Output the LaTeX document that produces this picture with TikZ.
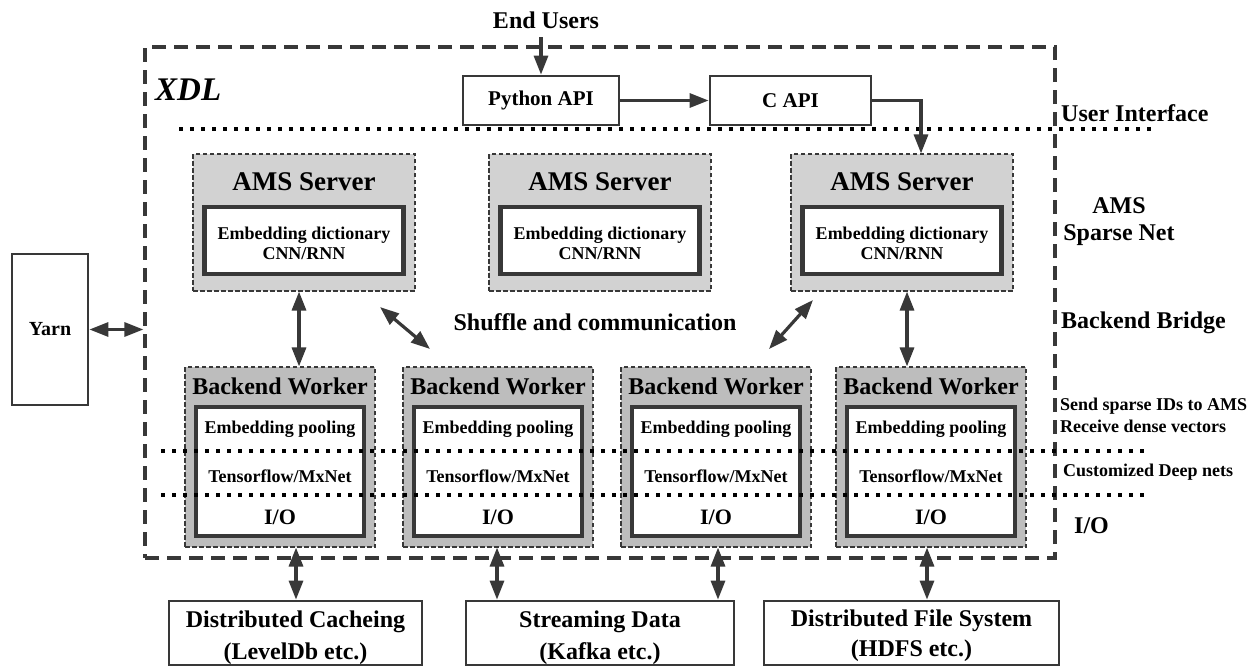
\documentclass[tikz,border=0pt]{standalone}
\usepackage{fontspec}
\setmainfont{Liberation Serif}
\usetikzlibrary{arrows.meta}
\definecolor{ln}{HTML}{383838}
\definecolor{amsfill}{HTML}{D2D2D2}
\definecolor{bwfill}{HTML}{BDBDBD}
\newcommand{\fsz}[2]{\fontsize{#1}{#2}\selectfont\bfseries}
\begin{document}
\begin{tikzpicture}[x=1pt,y=-1pt,
  box/.style={draw=ln, line width=2.8pt, fill=white, inner sep=0pt},
  graybox/.style={draw=ln, line width=1.1pt, dash pattern=on 4.5pt off 2.5pt, inner sep=0pt},
  thickbox/.style={draw=ln, line width=#1, fill=white, inner sep=0pt},
  lbl/.style={inner sep=0pt},
  arr/.style={draw=ln, line width=3.2pt, -{Triangle[length=19pt,width=14pt]}},
  darr/.style={draw=ln, line width=3.2pt, {Triangle[length=19pt,width=14pt]}-{Triangle[length=19pt,width=14pt]}},
  dotline/.style={line width=4.2pt, dash pattern=on 4.2pt off 6.8pt, black},
  frame/.style={draw=ln, line width=3.2pt, dash pattern=on 14pt off 8pt, inner sep=0pt}
]
\useasboundingbox (0,0) rectangle (1260,667);

% outer XDL frame
\node[frame, minimum width=910pt, minimum height=511pt] (xdl) at (600,302.5) {};
\node[lbl, anchor=west, font=\fontsize{33}{33}\selectfont\bfseries\itshape] (xdlt) at (155,90) {XDL};

% user interface
\node[lbl, font=\fsz{24}{24}] (eu) at (546,20) {End Users};
\node[box, minimum width=156pt, minimum height=49pt, font=\fsz{21}{21}] (py) at (541,100.5) {Python API};
\node[box, minimum width=161pt, minimum height=49pt, font=\fsz{21}{21}] (capi) at (790.5,100.5) {C API};
\coordinate (eua) at (541,37);

% AMS servers
\foreach \i/\x in {1/304,2/600,3/902}{
  \node[graybox, fill=amsfill, minimum width=222pt, minimum height=137pt] (ams\i) at (\x,222.5) {};
  \node[lbl, font=\fsz{27}{27}] (ams\i t) at (\x,182) {AMS Server};
  \node[thickbox=4.5pt, minimum width=199pt, minimum height=67pt] (ams\i e) at (\x,240.5) {};
  \node[lbl, align=center, font=\fsz{18}{20}] (ams\i d) at (\x,243) {Embedding dictionary\\CNN/RNN};
}

% Backend workers
\foreach \i/\x in {1/280,2/498,3/716,4/931}{
  \node[graybox, fill=bwfill, minimum width=190pt, minimum height=180pt] (bw\i) at (\x,457) {};
  \node[lbl, font=\fsz{24}{24}] (bw\i t) at (\x,386) {Backend Worker};
  \node[thickbox=3.5pt, minimum width=168pt, minimum height=129pt] (bw\i i) at (\x,471.5) {};
  \node[lbl, font=\fsz{18}{18}] (bw\i a) at (\x,429) {Embedding pooling};
  \node[lbl, font=\fsz{18}{18}] (bw\i b) at (\x,476) {Tensorflow/MxNet};
  \node[lbl, font=\fsz{22}{22}] (bw\i c) at (\x,517) {I/O};
}

% dotted layer lines
\coordinate (l0a) at (179,129); \coordinate (l0b) at (1154,129);
\coordinate (l1a) at (161,451); \coordinate (l1b) at (1145,451);
\coordinate (l2a) at (161,495); \coordinate (l2b) at (1145,495);
\draw[dotline] (l0a) -- (l0b);
\draw[dotline] (l1a) -- (l1b);
\draw[dotline] (l2a) -- (l2b);

% right labels
\node[lbl, anchor=west, font=\fsz{24}{24}] (ui) at (1061,113) {User Interface};
\node[lbl, align=center, font=\fsz{24}{27}] (asn) at (1119,222) {AMS\\Sparse Net};
\node[lbl, anchor=west, font=\fsz{24}{24}] (bb) at (1061,323) {Backend Bridge};
\node[lbl, anchor=west, align=left, font=\fsz{18}{22}] (sid) at (1060,415) {Send sparse IDs to AMS\\Receive dense vectors};
\node[lbl, anchor=west, font=\fsz{18}{18}] (cdn) at (1063,472) {Customized Deep nets};
\node[lbl, anchor=west, font=\fsz{24}{24}] (iol) at (1074,526) {I/O};

\node[lbl, font=\fsz{24}{24}] (shuf) at (595,322) {Shuffle and communication};

% Yarn
\node[box, minimum width=76pt, minimum height=151pt, font=\fsz{20}{20}] (yarn) at (50,329.5) {Yarn};

% storage boxes
\node[box, minimum width=253pt, minimum height=64pt] (dc) at (295.5,633) {};
\node[lbl, align=center, font=\fsz{24}{32}] (dct) at (295.5,638) {Distributed Cacheing\\(LevelDb etc.)};
\node[box, minimum width=268pt, minimum height=64pt] (sd) at (600,633) {};
\node[lbl, align=center, font=\fsz{24}{32}] (sdt) at (600,638) {Streaming Data\\(Kafka etc.)};
\node[box, minimum width=295pt, minimum height=64pt] (dfs) at (911.5,633) {};
\node[lbl, align=center, font=\fsz{24}{30}] (dfst) at (911.5,636) {Distributed File System\\(HDFS etc.)};

% connectors
\draw[arr] (eua) -- (py.north);
\draw[arr] (py.east) -- (capi.west);
\draw[arr] (capi.east) -| (ams3.north -| 921,0);
\draw[darr] (yarn.east) -- (yarn.east -| xdl.west);

\draw[darr] (ams1.south -| 299,0) -- (bw1.north -| 299,0);
\draw[darr] (ams3.south -| 907,0) -- (bw4.north -| 907,0);
\coordinate (s1a) at (380,307); \coordinate (s1b) at (430,349);
\coordinate (s2a) at (813,300); \coordinate (s2b) at (769,349);
\draw[darr] (s1a) -- (s1b);
\draw[darr] (s2a) -- (s2b);

\draw[darr] (bw1.south -| 296,0) -- (dc.north -| 296,0);
\draw[darr] (bw2.south -| 497,0) -- (sd.north -| 497,0);
\draw[darr] (bw3.south -| 718,0) -- (sd.north -| 718,0);
\draw[darr] (bw4.south -| 927,0) -- (dfs.north -| 927,0);
\end{tikzpicture}
\end{document}
